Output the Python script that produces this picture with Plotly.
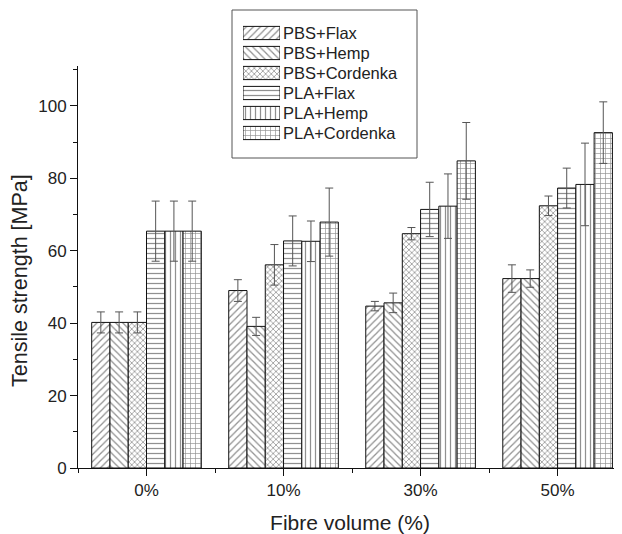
import plotly.graph_objects as go

categories = ["0%", "10%", "30%", "50%"]
series_names = ["PBS+Flax", "PBS+Hemp", "PBS+Cordenka", "PLA+Flax", "PLA+Hemp", "PLA+Cordenka"]

pbs_flax = [40.2, 49.0, 44.7, 52.3]
pbs_flax_err = [2.9, 3.0, 1.3, 3.8]
pbs_hemp = [40.2, 39.1, 45.6, 52.3]
pbs_hemp_err = [2.9, 2.5, 2.7, 2.4]
pbs_cord = [40.2, 56.1, 64.7, 72.4]
pbs_cord_err = [2.9, 5.6, 1.7, 2.7]
pla_flax = [65.4, 62.7, 71.4, 77.3]
pla_flax_err = [8.3, 6.9, 7.5, 5.5]
pla_hemp = [65.4, 62.6, 72.3, 78.3]
pla_hemp_err = [8.3, 5.6, 8.9, 11.4]
pla_cord = [65.4, 67.9, 84.8, 92.6]
pla_cord_err = [8.3, 9.4, 10.6, 8.5]

values = [pbs_flax, pbs_hemp, pbs_cord, pla_flax, pla_hemp, pla_cord]
errors = [pbs_flax_err, pbs_hemp_err, pbs_cord_err, pla_flax_err, pla_hemp_err, pla_cord_err]
shapes = ["/", "\\", "x", "-", "|", "+"]
sizes = [5, 5, 4, 5, 5, 5]
solids = [0.25, 0.25, 0.35, 0.25, 0.25, 0.25]

x_pos = list(range(len(categories)))

FONT = "Arial, 'Liberation Sans', sans-serif"
W, H = 614, 526  # page body has an 8px margin
L, R, T, B = 70, 0, 0, 66
PW, PH = W - L - R, H - T - B


def px(fx):
    return (fx - L) / PW


def py(fy):
    return 1 - (fy - T) / PH


fig = go.Figure()
for name, v, e, sh, sz, so in zip(series_names, values, errors, shapes, sizes, solids):
    fig.add_trace(go.Bar(
        name=name, x=x_pos, y=v, showlegend=False,
        marker=dict(color="white",
                    line=dict(color="#111", width=1),
                    pattern=dict(shape=sh, fgcolor="#222", bgcolor="white",
                                 size=sz, solidity=so, fillmode="overlay")),
        error_y=dict(type="data", array=e, visible=True, color="#555",
                     thickness=1, width=4),
    ))

# legend swatches drawn as a small inset bar chart
fig.add_trace(go.Bar(
    x=[1] * len(series_names), y=series_names, orientation="h",
    xaxis="x2", yaxis="y2", showlegend=False, hoverinfo="skip", width=0.66,
    marker=dict(color="white", line=dict(color="#111", width=1),
                pattern=dict(shape=shapes, fgcolor="#222", bgcolor="white",
                             size=sizes, solidity=solids, fillmode="overlay")),
))

fig.add_shape(type="rect", xref="paper", yref="paper",
              x0=px(224), x1=px(409), y0=py(150), y1=py(2),
              line=dict(color="#555", width=1), fillcolor="white", layer="below")

fig.add_annotation(text="Tensile strength [MPa]", xref="paper", yref="paper",
                   x=px(12), y=py(273), textangle=-90, showarrow=False,
                   xanchor="center", yanchor="middle",
                   font=dict(size=21.5, family=FONT, color="#222"))

fig.update_layout(
    width=W, height=H,
    margin=dict(l=L, r=R, t=T, b=B),
    paper_bgcolor="white", plot_bgcolor="rgba(0,0,0,0)",
    barmode="group", bargap=0.2, bargroupgap=0,
    font=dict(family=FONT, color="#222", size=17),
    showlegend=False,
    xaxis=dict(
        range=[-0.5, 3.47], tickmode="array", tickvals=x_pos, ticktext=categories,
        showline=True, linecolor="#111", linewidth=1,
        ticks="outside", ticklen=7, tickcolor="#111",
        minor=dict(tickmode="array", tickvals=[-0.5, 0.5, 1.5, 2.5, 3.5],
                   ticks="outside", ticklen=4, tickcolor="#111"),
        showgrid=False, zeroline=False,
        tickfont=dict(size=17),
        title=dict(text="Fibre volume (%)", font=dict(size=21), standoff=15),
    ),
    yaxis=dict(
        domain=[0, py(58)],
        range=[0, 111], tickvals=[0, 20, 40, 60, 80, 100],
        showline=True, linecolor="#111", linewidth=1,
        ticks="outside", ticklen=7, tickcolor="#111",
        minor=dict(tickvals=[10, 30, 50, 70, 90, 110], ticks="outside", ticklen=4, tickcolor="#111"),
        showgrid=False, zeroline=False,
        tickfont=dict(size=17),
    ),
    xaxis2=dict(domain=[px(235), px(272)], range=[0, 1], anchor="y2",
                visible=False, fixedrange=True),
    yaxis2=dict(domain=[py(135), py(15)], anchor="x2", side="right",
                type="category", autorange="reversed",
                tickmode="array", tickvals=series_names, ticktext=series_names,
                showgrid=False, zeroline=False, showline=False,
                ticks="", tickfont=dict(size=16.5, color="#222"), ticklabelstandoff=2,
                fixedrange=True),
)

fig.write_html("out.html")
